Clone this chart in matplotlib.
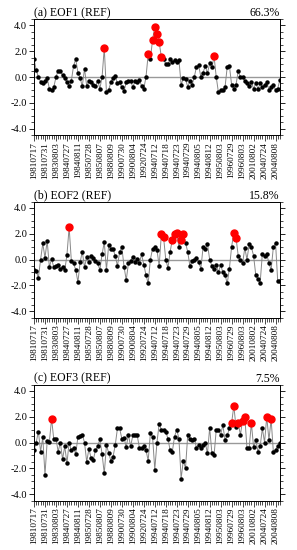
import matplotlib
matplotlib.use("Agg")
import matplotlib.pyplot as plt
import numpy as np

# event dates shown on the x axis (every 5th event)
date_labels = ["19810717", "19810731", "19830803", "19840727", "19840811",
               "19850728", "19850807", "19880809", "19900730", "19900804",
               "19920724", "19940712", "19940718", "19940723", "19940729",
               "19940805", "19940812", "19950803", "19960729", "19960803",
               "20010802", "20040724", "20040808"]

titles = ["(a) EOF1 (REF)", "(b) EOF2 (REF)", "(c) EOF3 (REF)"]
variance = ["66.3%", "15.8%", "7.5%"]

pc1 = [1.4, 0.55, 0.0, -0.35, -0.45, -0.3, -0.1, -0.9, -1.0, -0.8,
       0.0, 0.5, 0.45, 0.15, -0.1, -0.4, -0.7, -0.3, 0.85, 1.4,
       0.35, -0.1, -0.7, 0.65, -0.7, -0.3, -0.35, -0.6, -0.7, -0.3,
       -0.9, 0.0, 2.25, -1.2, -1.0, -0.4, -0.1, 0.1, -0.5, -0.4,
       -0.8, -1.1, -0.4, -0.3, -0.3, -0.8, -0.3, -0.35, -0.2, -0.7,
       -0.9, 0.0, 1.75, 1.4, 2.9, 3.9, 3.3, 2.7, 1.55, 1.4,
       1.0, 1.0, 1.4, 1.2, 1.3, 1.2, 1.35, -0.6, -0.1, -0.15,
       -0.75, -0.3, -0.6, 0.0, 0.8, 0.9, 0.0, 0.35, 0.85, 0.3,
       1.05, 0.75, 1.6, 0.0, -1.2, -1.0, -1.0, -0.8, 0.8, 0.85,
       -0.6, -0.9, -0.6, 0.45, 0.0, 0.0, -0.3, -0.5, -0.7, -0.4,
       -0.9, -0.5, -0.9, -0.5, -0.8, -0.6, -0.4, -1.0, -0.8, -0.6,
       -1.0, -0.9, -0.2]

pc2 = [-0.8, -0.9, -1.4, 0.0, 1.25, 0.15, 1.45, -0.6, 0.05, -0.6,
       -0.5, -0.45, -0.7, -0.6, -0.85, 0.35, 2.5, -0.1, -0.3, -0.8,
       -1.75, -0.2, 0.6, -0.6, 0.2, -0.2, 0.3, 0.1, -0.1, -0.3,
       -0.8, 0.4, 1.35, -0.8, 1.1, 0.85, 0.8, 0.3, -0.5, 0.6,
       0.95, -0.55, -1.6, -0.3, -0.1, 0.2, -0.2, 0.05, -0.3, 0.4,
       -0.4, -1.2, -1.85, 0.0, 0.85, 0.95, 0.75, -0.5, 1.95, 1.75,
       0.0, -0.65, 0.6, 1.55, 1.95, 2.05, 1.0, 1.5, 1.95, 1.3,
       0.6, -0.5, -0.1, -0.05, 0.1, -0.2, -0.7, 0.95, 0.8, 1.2,
       0.0, -0.5, -0.7, -0.4, -1.0, -0.4, -1.0, -1.2, -1.85, -0.7,
       1.0, 2.05, 1.7, 0.3, 0.0, -0.3, 0.9, 0.0, 1.2, 0.95,
       0.3, -1.2, -1.55, -1.8, 0.45, 0.3, 0.45, -0.3, -0.8, 0.95,
       1.3, -1.7, -1.65]

pc3 = [-0.6, 0.0, 0.85, -0.7, 0.4, -2.5, 0.1, 0.05, 1.85, 0.25,
       0.3, -0.7, 0.0, -1.3, -0.3, -1.6, 0.0, -0.6, -0.4, -0.9,
       0.45, 0.5, 0.6, 0.0, -1.5, -0.5, -1.2, -1.35, -0.6, -0.3,
       0.25, -0.9, -2.4, -0.2, -0.8, -1.4, -1.1, -0.2, 1.1, 1.1,
       0.3, 0.35, -0.35, 0.6, -0.3, 0.55, 0.55, 0.55, -0.4, -0.4,
       -0.25, -0.6, -1.4, 0.7, 0.45, -2.1, 0.0, 1.45, 1.0, 1.0,
       0.85, 0.3, -0.6, -0.7, 0.45, 1.0, 0.3, -2.8, -1.4, -2.0,
       0.55, 0.3, 0.2, 0.3, -0.4, -0.2, -0.4, -0.2, 0.0, -0.85,
       1.15, -0.8, -1.0, 1.0, 1.0, 0.6, 1.35, 0.2, 0.55, 1.1,
       1.5, 2.85, 1.2, 1.5, 0.6, 1.7, 2.0, -0.45, -0.4, 1.5,
       -0.35, 0.2, -0.7, -0.3, 1.1, 0.0, 2.0, 0.2, 1.8, -0.7,
       -0.6, -0.3, 0.0]

threshold = 1.5

plt.rcParams['font.family'] = ['Liberation Serif', 'DejaVu Serif']

fig = plt.figure(figsize=(2.97, 5.5), dpi=100)
bottoms = [0.7545, 0.4227, 0.09]

for k, pc in enumerate([pc1, pc2, pc3]):
    ax = fig.add_axes([0.1145, bottoms[k], 0.828, 0.2109])
    y = np.array(pc)
    x = np.arange(len(y))
    ax.axhline(0, color="#999999", lw=1.0, zorder=1)
    ax.plot(x, y, color="#888888", lw=0.7, zorder=2)
    big = y >= threshold
    ax.plot(x[~big], y[~big], "o", color="black", ms=2.2, zorder=3)
    ax.plot(x[big], y[big], "o", color="red", ms=5, zorder=4)

    ax.set_xlim(0, len(y) - 1)
    ax.set_ylim(-4.5, 4.5)
    ax.set_yticks([-4, -2, 0, 2, 4])
    ax.set_yticks(np.arange(-4.5, 4.6, 0.5), minor=True)
    ax.set_yticklabels(["%.1f" % v for v in [-4, -2, 0, 2, 4]], fontsize=7.5)
    ax.set_xticks(np.arange(0, 5 * len(date_labels), 5))
    ax.set_xticklabels(date_labels, rotation=90, fontsize=6.6)
    ax.set_xticks(x, minor=True)
    ax.tick_params(axis="y", which="both", direction="out", left=True, right=True)
    ax.tick_params(axis="y", which="major", length=3.5, width=0.6, pad=1.5)
    ax.tick_params(axis="y", which="minor", length=2, width=0.5)
    ax.tick_params(axis="x", which="major", length=4, width=0.5, pad=1)
    ax.tick_params(axis="x", which="minor", length=3, width=0.5)
    for s in ax.spines.values():
        s.set_linewidth(0.7)

    ax.set_title(titles[k], loc="left", fontsize=8.5, pad=1.5)
    ax.set_title(variance[k], loc="right", fontsize=8.5, pad=1.5)

fig.savefig("out.png", dpi=100)
